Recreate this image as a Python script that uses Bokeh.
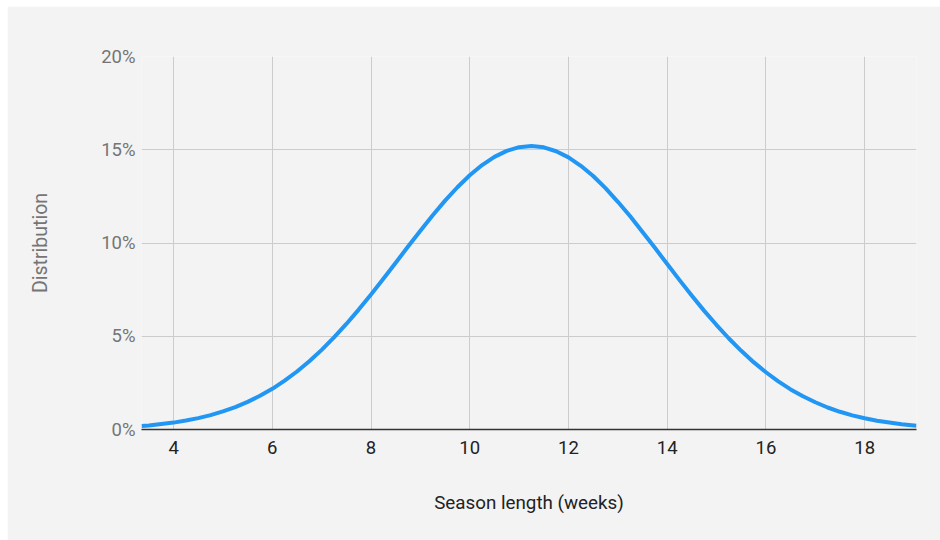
from bokeh.plotting import figure
from bokeh.models import FixedTicker, PrintfTickFormatter, Range1d
from bokeh.embed import file_html
from bokeh.resources import INLINE

# Season length (weeks) and distribution (%)
weeks = [3.35, 3.5, 3.75, 4.0, 4.25, 4.5, 4.75, 5.0, 5.25, 5.5, 5.75, 6.0, 6.25, 6.5, 6.75,
         7.0, 7.25, 7.5, 7.75, 8.0, 8.25, 8.5, 8.75, 9.0, 9.25, 9.5, 9.75, 10.0, 10.25,
         10.5, 10.75, 11.0, 11.25, 11.5, 11.75, 12.0, 12.25, 12.5, 12.75, 13.0, 13.25,
         13.5, 13.75, 14.0, 14.25, 14.5, 14.75, 15.0, 15.25, 15.5, 15.75, 16.0, 16.25,
         16.5, 16.75, 17.0, 17.25, 17.5, 17.75, 18.0, 18.25, 18.5, 18.75, 19.05]
distribution = [0.19, 0.22, 0.29, 0.37, 0.48, 0.61, 0.77, 0.97, 1.20, 1.48, 1.81, 2.18,
                2.62, 3.11, 3.66, 4.27, 4.94, 5.66, 6.43, 7.24, 8.08, 8.94, 9.81, 10.66,
                11.49, 12.27, 12.99, 13.63, 14.18, 14.62, 14.94, 15.14, 15.20, 15.13,
                14.92, 14.59, 14.14, 13.59, 12.94, 12.21, 11.43, 10.59, 9.74, 8.87, 8.01,
                7.17, 6.36, 5.60, 4.88, 4.22, 3.61, 3.07, 2.58, 2.15, 1.78, 1.46, 1.18,
                0.95, 0.76, 0.60, 0.47, 0.37, 0.28, 0.20]
x_ticks = [4, 6, 8, 10, 12, 14, 16, 18]
y_ticks = [0, 5, 10, 15, 20]
y_title = "Distribution"
x_title = "Season length (weeks)"

BG = "#f3f3f3"
FONT = "Roboto"
FS = "18.5px"

p = figure(width=933, height=534, output_backend="svg", toolbar_location=None,
           x_range=Range1d(3.35, 19.05), y_range=Range1d(0, 20),
           background_fill_color=BG, border_fill_color=BG,
           min_border_left=134, min_border_right=24, min_border_top=50, min_border_bottom=111)
p.margin = (6, 0, 0, 7)
p.outline_line_color = None

p.line(weeks, distribution, line_color="#2196f3", line_width=4, line_join="round")

# grids
p.xgrid.ticker = FixedTicker(ticks=x_ticks)
p.ygrid.ticker = FixedTicker(ticks=y_ticks)
for g in (p.xgrid, p.ygrid):
    g.grid_line_color = "#cccccc"
    g.grid_line_width = 1

# x axis
xa = p.xaxis[0]
xa.ticker = FixedTicker(ticks=x_ticks)
xa.axis_line_color = "#333333"
xa.axis_line_width = 1.5
xa.major_tick_line_color = None
xa.major_tick_out = 0
xa.minor_tick_line_color = None
xa.minor_tick_out = 0
xa.major_label_text_font = FONT
xa.major_label_text_font_size = FS
xa.major_label_text_color = "#222222"
xa.major_label_standoff = 11
xa.axis_label = x_title
xa.axis_label_text_font = FONT
xa.axis_label_text_font_size = "18.8px"
xa.axis_label_text_font_style = "normal"
xa.axis_label_text_color = "#222222"
xa.axis_label_standoff = 35

# y axis
ya = p.yaxis[0]
ya.ticker = FixedTicker(ticks=y_ticks)
ya.formatter = PrintfTickFormatter(format="%d%%")
ya.axis_line_color = None
ya.major_tick_line_color = None
ya.major_tick_out = 0
ya.minor_tick_line_color = None
ya.minor_tick_out = 0
ya.major_label_text_font = FONT
ya.major_label_text_font_size = FS
ya.major_label_text_color = "#757575"
ya.major_label_standoff = 6
ya.axis_label = y_title
ya.axis_label_text_font = FONT
ya.axis_label_text_font_size = "19.5px"
ya.axis_label_text_font_style = "normal"
ya.axis_label_text_color = "#757575"
ya.axis_label_standoff = 46

open("out.html", "w").write(file_html(p, INLINE))
